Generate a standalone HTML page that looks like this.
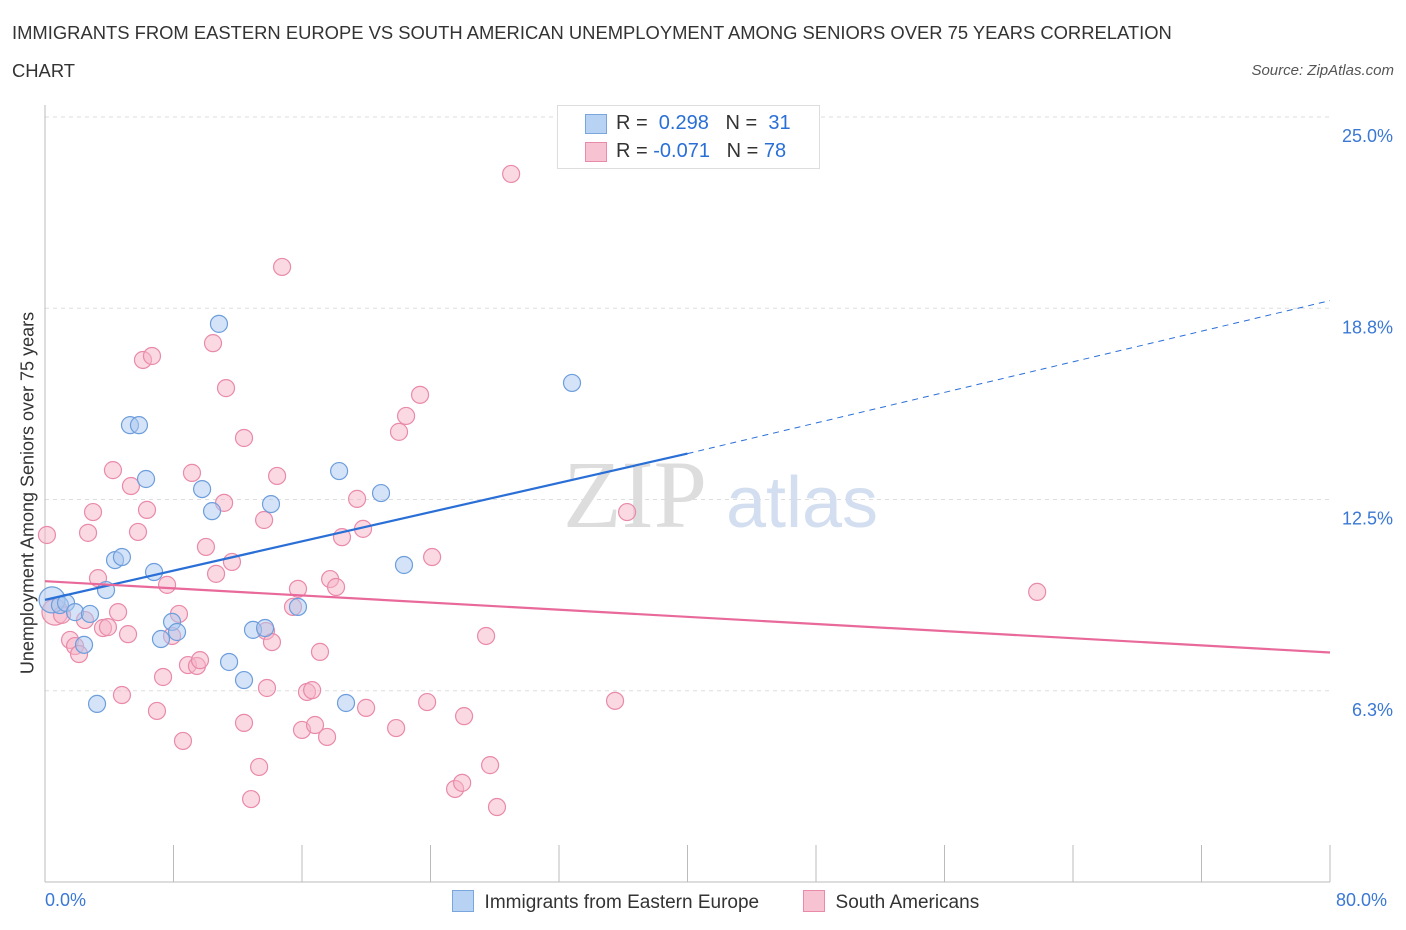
<!DOCTYPE html>
<html><head><meta charset="utf-8"><style>
body{margin:0;background:#fff;font-family:"Liberation Sans",sans-serif}
#wrap{position:relative;width:1406px;height:930px;overflow:hidden}
.t{position:absolute;white-space:nowrap}
</style></head><body>
<div id="wrap">
<div class="t" style="left:12px;top:14px;font-size:18.4px;color:#333;line-height:38px">IMMIGRANTS FROM EASTERN EUROPE VS SOUTH AMERICAN UNEMPLOYMENT AMONG SENIORS OVER 75 YEARS CORRELATION<br>CHART</div>
<div class="t" style="right:12px;top:62px;font-size:15px;color:#555;font-style:italic">Source: ZipAtlas.com</div>
<svg id="svg" width="1406" height="930" style="position:absolute;left:0;top:0"></svg>
</div>
<script>
const yTicks=[25.0,18.75,12.5,6.25];
const yTickLabels=["25.0%","18.8%","12.5%","6.3%"];
const xTickVals=[8,16,24,32,40,48,56,64,72,80];
const blueX=[0.44,0.93,1.31,1.87,2.80,2.43,3.24,3.80,4.36,4.79,5.29,5.85,6.29,6.79,7.22,7.91,8.22,9.78,10.40,10.83,11.46,12.39,12.95,13.70,14.07,15.75,18.31,18.74,20.92,22.35,32.81];
const blueY=[9.22,9.05,9.12,8.82,8.76,7.75,5.82,9.54,10.52,10.62,14.93,14.93,13.17,10.13,7.94,8.50,8.17,12.84,12.12,18.24,7.19,6.60,8.24,8.30,12.35,8.99,13.43,5.85,12.71,10.36,16.31];
const pinkX=[0.12,0.62,1.06,1.56,1.87,2.12,2.49,2.99,2.68,3.30,3.61,3.92,4.23,4.55,4.79,5.17,5.35,5.79,6.10,6.35,6.66,6.97,7.35,7.60,7.91,8.34,8.59,8.90,9.15,9.46,9.65,10.02,10.46,10.65,11.15,11.27,11.64,12.39,12.39,12.83,13.33,13.64,13.76,13.82,14.13,14.45,14.76,15.44,15.75,16.00,16.31,16.63,16.81,17.12,17.56,17.75,18.12,18.49,19.43,19.80,19.99,21.86,22.04,22.48,23.35,23.79,24.10,25.53,25.97,26.09,27.46,27.71,28.14,29.02,36.24,35.49,61.77];
const pinkY=[11.34,8.82,8.73,7.91,7.71,7.45,8.56,12.09,11.41,9.93,8.30,8.33,13.46,8.82,6.11,8.10,12.94,11.44,17.06,12.16,17.19,5.59,6.70,9.71,8.04,8.76,4.61,7.09,13.37,7.06,7.25,10.95,17.61,10.07,12.39,16.14,10.46,14.51,5.20,2.71,3.76,11.83,8.20,6.34,7.84,13.27,20.10,8.99,9.58,4.97,6.21,6.27,5.13,7.52,4.74,9.90,9.64,11.27,12.52,11.54,5.69,5.03,14.71,15.23,15.92,5.88,10.62,3.04,3.24,5.42,8.04,3.82,2.45,23.14,12.09,5.92,9.48];
const blueTrend=[9.22,14.0];
const blueTrendEnd=19.0;
const pinkTrend=[9.83,7.50];
const X=v=>45+v*1285/80, Y=v=>882-v*30.6;
const s=document.getElementById('svg'),NS='http://www.w3.org/2000/svg';
function mk(t,a,p){const e=document.createElementNS(NS,t);for(const k in a)e.setAttribute(k,a[k]);(p||s).appendChild(e);return e;}
yTicks.forEach((v,i)=>{
 const g=mk('line',{x1:45,x2:1330,y1:Y(v),y2:Y(v),stroke:'#ddd','stroke-dasharray':'4,4'});
 
 
 const t=mk('text',{x:1393,y:Y(v)+25,'text-anchor':'end','font-size':18,fill:'#3a78d4'});t.textContent=yTickLabels[i];
 
 
});
mk('line',{x1:45,x2:45,y1:105,y2:882,stroke:'#bbb'});
mk('line',{x1:45,x2:1330,y1:882,y2:882,stroke:'#bbb'});
xTickVals.forEach(v=>{const l=mk('line',{x1:X(v),x2:X(v),y1:845,y2:882,stroke:'#bbb'});
 
 });
const wm=mk('text',{x:635,y:527,'text-anchor':'middle','font-size':96,fill:'#ddd','font-family':'Liberation Serif'});wm.textContent='ZIP';
const wm2=mk('text',{x:802,y:527,'text-anchor':'middle','font-size':72,fill:'#d3dff0'});wm2.textContent='atlas';
function pts(xs,ys,fill,stroke,name,bigIdx){xs.forEach((x,i)=>{const big=(i===bigIdx);
 const c=mk('circle',{cx:X(x),cy:Y(ys[i]),r:big?13:8.5,fill:fill,'fill-opacity':0.5,stroke:stroke,'stroke-width':1.2});
 
 });}
pts(pinkX,pinkY,'#f5b3c8','#e98aa9','pink-point',1);
pts(blueX,blueY,'#a9c8f0','#6d9edc','blue-point',0);
const bl=mk('line',{x1:X(0),y1:Y(blueTrend[0]),x2:X(40),y2:Y(blueTrend[1]),stroke:'#2a6fd6','stroke-width':2.2});

mk('line',{x1:X(40),y1:Y(blueTrend[1]),x2:X(80),y2:Y(blueTrendEnd),stroke:'#2a6fd6','stroke-width':1,'stroke-dasharray':'6,5'});
const pl=mk('line',{x1:X(0),y1:Y(pinkTrend[0]),x2:X(80),y2:Y(pinkTrend[1]),stroke:'#e8699a','stroke-width':2.2});

</script>
<div class="t" style="left:45px;top:890px;font-size:18px;color:#3a78d4">0.0%</div>
<div class="t" style="left:1336px;top:890px;font-size:18px;color:#3a78d4">80.0%</div>
<div class="t" style="left:28px;top:493px;font-size:18px;color:#333;transform:translate(-50%,-50%) rotate(-90deg)">Unemployment Among Seniors over 75 years</div>
<div style="position:absolute;left:557px;top:105px;width:261px;height:62px;border:1px solid #ddd;background:#fff;font-size:20px">
 <div style="position:absolute;left:27px;top:8px;width:20px;height:18px;background:#b8d2f4;border:1px solid #7aa6de"></div>
 <div class="t" style="left:58px;top:6px;color:#333">R = <span style="color:#2a6fd6">&nbsp;0.298</span>&nbsp;&nbsp;&nbsp;N = <span style="color:#2a6fd6">&nbsp;31</span></div>
 <div style="position:absolute;left:27px;top:36px;width:20px;height:18px;background:#f7c3d3;border:1px solid #e98aa9"></div>
 <div class="t" style="left:58px;top:34px;color:#333">R = <span style="color:#2a6fd6">-0.071</span>&nbsp;&nbsp;&nbsp;N = <span style="color:#2a6fd6">78</span></div>
</div>
<div style="position:absolute;left:452px;top:890px;font-size:19px;color:#333">
 <span style="display:inline-block;width:20px;height:20px;background:#b8d2f4;border:1px solid #7aa6de;vertical-align:-4px"></span>&nbsp; Immigrants from Eastern Europe</div>
<div style="position:absolute;left:803px;top:890px;font-size:19px;color:#333">
 <span style="display:inline-block;width:20px;height:20px;background:#f7c3d3;border:1px solid #e98aa9;vertical-align:-4px"></span>&nbsp; South Americans</div>
</body></html>
